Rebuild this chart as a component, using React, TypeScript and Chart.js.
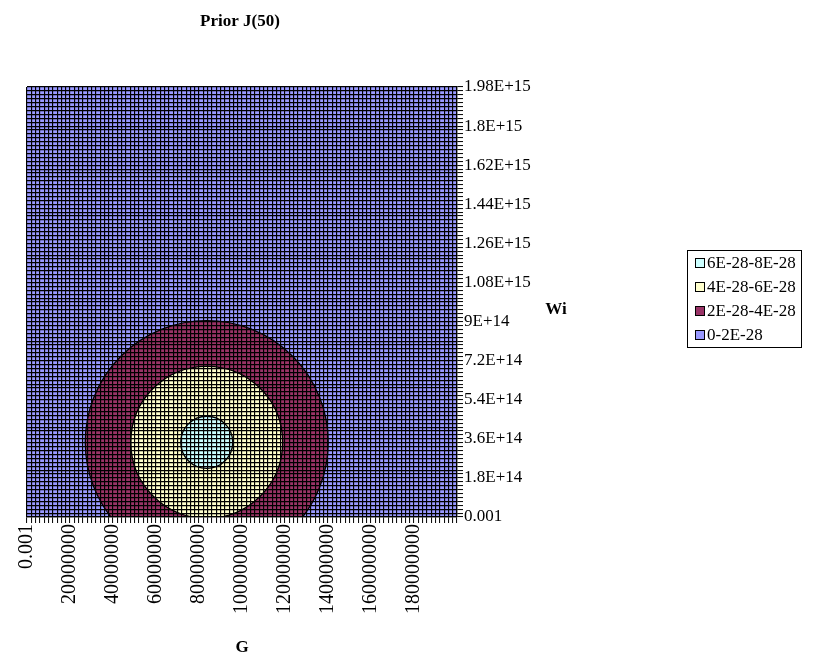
import React, { useEffect, useRef } from 'react';
import { Chart, registerables } from 'chart.js';

Chart.register(...registerables);

// Axis ranges and grid spacing (one grid line per data row / column)
const G_MAX = 200000000;
const G_STEP = 2000000;
const WI_MAX = 1.98e15;
const WI_STEP = 1.8e13;

// Labels shown on every tenth grid line
const gTickLabels = ['0.001', '20000000', '40000000', '60000000', '80000000', '100000000', '120000000', '140000000', '160000000', '180000000'];
const wiTickLabels = ['0.001', '1.8E+14', '3.6E+14', '5.4E+14', '7.2E+14', '9E+14', '1.08E+15', '1.26E+15', '1.44E+15', '1.62E+15', '1.8E+15', '1.98E+15'];

// Contour bands, lowest level first
const bandLabels = ['0-2E-28', '2E-28-4E-28', '4E-28-6E-28', '6E-28-8E-28'];
const bandColors = ['#9999FF', '#993366', '#FFFFCC', '#CCFFFF'];
// Peak of the prior and the extent of each band's outer boundary (data units)
const peakG = 83600000;
const peakWi = 3.44e14;
const bandRadiusG = [0, 56500000, 35300000, 12100000];
const bandRadiusWi = [0, 5.6e14, 3.5e14, 1.2e14];

const FONT = "'Liberation Serif', 'Times New Roman', serif";
const W = 833;
const H = 667;
const GRID_W = 1.15;

const contourPlugin = {
  id: 'contourBands',
  beforeDatasetsDraw(chart: any) {
    const { ctx, chartArea: a, scales } = chart;
    const x = scales.x;
    const y = scales.y;
    ctx.save();
    ctx.beginPath();
    ctx.rect(a.left, a.top, a.right - a.left, a.bottom - a.top);
    ctx.clip();
    ctx.fillStyle = bandColors[0];
    ctx.fillRect(a.left, a.top, a.right - a.left, a.bottom - a.top);
    const cx = x.getPixelForValue(peakG);
    const cy = y.getPixelForValue(peakWi);
    for (let i = 1; i < bandColors.length; i++) {
      const rx = Math.abs(x.getPixelForValue(peakG + bandRadiusG[i]) - cx);
      const ry = Math.abs(y.getPixelForValue(peakWi + bandRadiusWi[i]) - cy);
      ctx.beginPath();
      ctx.ellipse(cx, cy, rx, ry, 0, 0, Math.PI * 2);
      ctx.fillStyle = bandColors[i];
      ctx.fill();
      ctx.lineWidth = 1.3;
      ctx.strokeStyle = '#000';
      ctx.stroke();
    }
    ctx.restore();
  },
  afterDraw(chart: any) {
    const { ctx, chartArea: a, scales } = chart;
    ctx.save();
    ctx.fillStyle = '#000';
    ctx.textAlign = 'center';
    ctx.textBaseline = 'middle';
    ctx.font = `bold 17px ${FONT}`;
    ctx.fillText('Prior J(50)', (a.left + a.right) / 2 - 2, 22);
    ctx.fillText('G', (a.left + a.right) / 2, 648);
    ctx.fillText('Wi', scales.y.left + 99, (a.top + a.bottom) / 2 + 8);

    // Legend, highest band on top
    const lx = 687;
    const ly = 250;
    const lw = 114;
    const lh = 97;
    ctx.lineWidth = 1;
    ctx.strokeStyle = '#000';
    ctx.fillStyle = '#fff';
    ctx.fillRect(lx, ly, lw, lh);
    ctx.strokeRect(lx + 0.5, ly + 0.5, lw, lh);
    ctx.font = `17px ${FONT}`;
    ctx.textAlign = 'left';
    for (let k = 0; k < bandLabels.length; k++) {
      const i = bandLabels.length - 1 - k;
      const rowY = ly + 13 + k * 24;
      ctx.fillStyle = bandColors[i];
      ctx.fillRect(lx + 8.5, rowY - 4.5, 9, 9);
      ctx.strokeRect(lx + 8.5, rowY - 4.5, 9, 9);
      ctx.fillStyle = '#000';
      ctx.fillText(bandLabels[i], lx + 20, rowY + 1);
    }
    ctx.restore();
  },
};

export default function App() {
  const ref = useRef<HTMLCanvasElement | null>(null);

  useEffect(() => {
    if (!ref.current) return;
    const chart = new Chart(ref.current, {
      type: 'scatter',
      data: { datasets: [] },
      options: {
        animation: false,
        responsive: false,
        layout: { padding: { left: 27, top: 87, right: 0, bottom: 0 } },
        plugins: { legend: { display: false }, title: { display: false }, tooltip: { enabled: false } },
        scales: {
          x: {
            type: 'linear',
            position: 'bottom',
            min: 0,
            max: G_MAX,
            afterFit: (s: any) => { s.height = H - 517; },
            grid: { z: 1, color: '#000', lineWidth: GRID_W, tickLength: 6, tickColor: '#000', tickWidth: 1 },
            border: { z: 2, color: '#000', width: 1.3 },
            ticks: {
              stepSize: G_STEP,
              maxTicksLimit: 500,
              autoSkip: false,
              minRotation: 90,
              maxRotation: 90,
              padding: 1,
              color: '#000',
              font: { family: FONT, size: 20 },
              callback: (_v: any, i: number) => (i % 10 === 0 ? gTickLabels[i / 10] ?? '' : ''),
            },
          },
          y: {
            type: 'linear',
            position: 'right',
            min: 0,
            max: WI_MAX,
            afterFit: (s: any) => { s.width = W - 457; },
            grid: { z: 1, color: '#000', lineWidth: GRID_W, tickLength: 6, tickColor: '#000', tickWidth: 1 },
            border: { z: 2, color: '#000', width: 1.3 },
            ticks: {
              stepSize: WI_STEP,
              maxTicksLimit: 500,
              autoSkip: false,
              padding: 1,
              color: '#000',
              font: { family: FONT, size: 17 },
              callback: (_v: any, i: number) => (i % 10 === 0 ? wiTickLabels[i / 10] ?? '' : ''),
            },
          },
        },
      },
      plugins: [contourPlugin],
    });
    return () => chart.destroy();
  }, []);

  return (
    <div style={{ position: 'fixed', left: 0, top: 0, width: W, height: H, background: '#fff' }}>
      <canvas ref={ref} width={W} height={H} style={{ display: 'block', width: W, height: H }} />
    </div>
  );
}
